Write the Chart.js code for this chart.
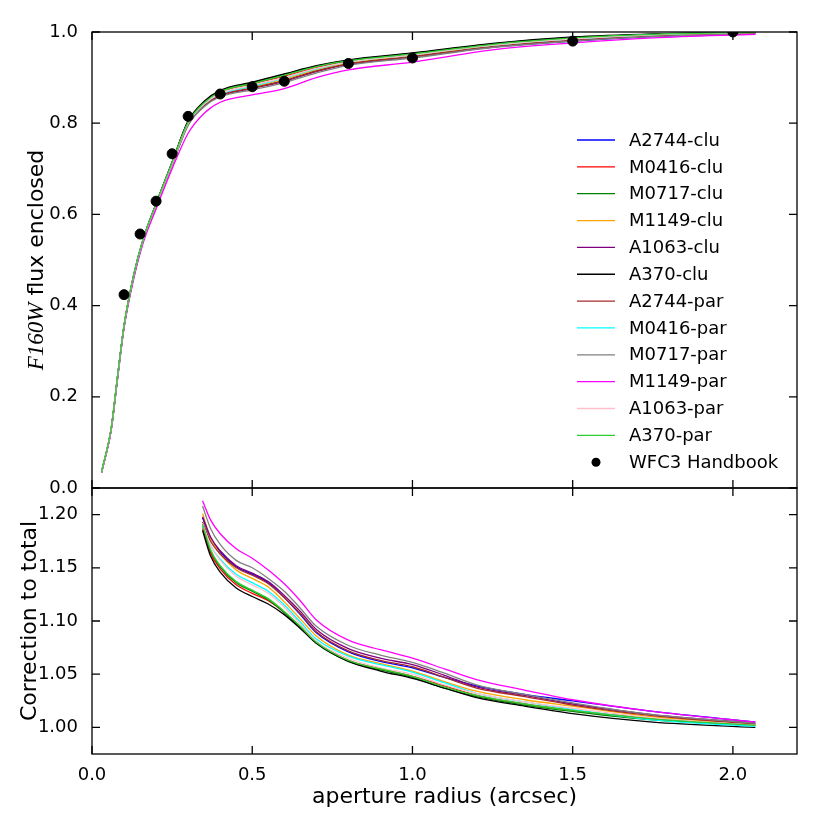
<!DOCTYPE html>
<html>
<head>
<meta charset="utf-8">
<script src="https://cdn.jsdelivr.net/npm/chart.js@4.4.1/dist/chart.umd.min.js"></script>
<style>
  html, body { margin: 0; padding: 0; background: #fff; }
</style>
</head>
<body>
<canvas id="c" width="830" height="830"></canvas>
<script>
// fields, in plotting order
const names = ['A2744-clu', 'M0416-clu', 'M0717-clu', 'M1149-clu', 'A1063-clu', 'A370-clu',
               'A2744-par', 'M0416-par', 'M0717-par', 'M1149-par', 'A1063-par', 'A370-par'];
const colors = ['#0000ff', '#ff0000', '#008000', '#ffa500', '#800080', '#000000',
                '#a52a2a', '#00ffff', '#808080', '#ff00ff', '#ffc0cb', '#32cd32'];

// top panel: enclosed flux vs aperture radius
const rTop = [0.03, 0.06, 0.08, 0.1, 0.13, 0.16, 0.2, 0.25, 0.3, 0.35, 0.4, 0.5, 0.6, 0.7, 0.8, 1.0, 1.25, 1.5, 1.75, 2.07];
const fluxA2744clu = [0.035, 0.129, 0.244, 0.354, 0.463, 0.543, 0.620, 0.710, 0.799, 0.840, 0.862, 0.878, 0.894, 0.915, 0.931, 0.946, 0.967, 0.980, 0.990, 0.996];
const fluxM0416clu = [0.035, 0.131, 0.246, 0.356, 0.466, 0.546, 0.623, 0.714, 0.804, 0.846, 0.869, 0.886, 0.903, 0.922, 0.936, 0.951, 0.972, 0.986, 0.994, 0.999];
const fluxM0717clu = [0.035, 0.131, 0.246, 0.356, 0.466, 0.546, 0.623, 0.714, 0.803, 0.846, 0.870, 0.889, 0.907, 0.925, 0.938, 0.953, 0.974, 0.988, 0.995, 0.999];
const fluxM1149clu = [0.035, 0.129, 0.244, 0.354, 0.463, 0.543, 0.619, 0.709, 0.797, 0.838, 0.861, 0.879, 0.896, 0.917, 0.932, 0.948, 0.970, 0.984, 0.993, 0.998];
const fluxA1063clu = [0.035, 0.129, 0.244, 0.354, 0.463, 0.543, 0.619, 0.709, 0.797, 0.838, 0.860, 0.876, 0.892, 0.913, 0.929, 0.945, 0.967, 0.981, 0.991, 0.997];
const fluxA370clu  = [0.035, 0.131, 0.246, 0.356, 0.467, 0.547, 0.624, 0.715, 0.805, 0.848, 0.872, 0.890, 0.908, 0.926, 0.939, 0.954, 0.975, 0.989, 0.996, 1.000];
const fluxA2744par = [0.035, 0.130, 0.245, 0.355, 0.464, 0.544, 0.620, 0.710, 0.798, 0.839, 0.861, 0.877, 0.893, 0.914, 0.930, 0.946, 0.968, 0.982, 0.992, 0.998];
const fluxM0416par = [0.035, 0.130, 0.245, 0.355, 0.465, 0.545, 0.622, 0.712, 0.801, 0.842, 0.864, 0.881, 0.899, 0.919, 0.934, 0.950, 0.971, 0.985, 0.994, 1.000];
const fluxM0717par = [0.035, 0.129, 0.243, 0.353, 0.462, 0.542, 0.618, 0.707, 0.795, 0.836, 0.858, 0.873, 0.889, 0.910, 0.927, 0.943, 0.966, 0.980, 0.990, 0.996];
const fluxM1149par = [0.034, 0.127, 0.240, 0.350, 0.458, 0.538, 0.612, 0.700, 0.778, 0.822, 0.846, 0.862, 0.876, 0.900, 0.917, 0.934, 0.961, 0.976, 0.987, 0.995];
const fluxA1063par = [0.035, 0.130, 0.245, 0.355, 0.465, 0.545, 0.621, 0.711, 0.800, 0.842, 0.865, 0.883, 0.900, 0.920, 0.934, 0.950, 0.971, 0.985, 0.994, 0.999];
const fluxA370par  = [0.035, 0.131, 0.246, 0.356, 0.466, 0.546, 0.623, 0.714, 0.802, 0.845, 0.869, 0.887, 0.905, 0.924, 0.937, 0.952, 0.973, 0.987, 0.995, 0.999];

// WFC3 handbook encircled energy
const rHandbook = [0.1, 0.15, 0.2, 0.25, 0.3, 0.4, 0.5, 0.6, 0.8, 1.0, 1.5, 2.0];
const fluxHandbook = [0.424, 0.557, 0.629, 0.733, 0.815, 0.864, 0.880, 0.892, 0.931, 0.943, 0.980, 1.000];

// bottom panel: correction to total
const rBot = [0.345, 0.37, 0.4, 0.45, 0.5, 0.55, 0.6, 0.65, 0.7, 0.8, 0.9, 1.0, 1.1, 1.2, 1.35, 1.5, 1.75, 2.07];
const corrA2744clu = [1.197, 1.178, 1.165, 1.151, 1.144, 1.136, 1.122, 1.106, 1.089, 1.071, 1.062, 1.056, 1.047, 1.039, 1.031, 1.025, 1.015, 1.005];
const corrM0416clu = [1.187, 1.164, 1.149, 1.134, 1.126, 1.119, 1.108, 1.094, 1.080, 1.063, 1.055, 1.048, 1.039, 1.030, 1.022, 1.016, 1.008, 1.002];
const corrM0717clu = [1.190, 1.166, 1.151, 1.136, 1.128, 1.120, 1.108, 1.094, 1.079, 1.062, 1.054, 1.047, 1.037, 1.029, 1.021, 1.015, 1.007, 1.002];
const corrM1149clu = [1.201, 1.178, 1.163, 1.148, 1.140, 1.132, 1.118, 1.102, 1.086, 1.068, 1.060, 1.053, 1.043, 1.034, 1.026, 1.020, 1.010, 1.003];
const corrA1063clu = [1.198, 1.179, 1.166, 1.152, 1.145, 1.137, 1.124, 1.109, 1.092, 1.074, 1.065, 1.059, 1.049, 1.038, 1.030, 1.022, 1.012, 1.004];
const corrA370clu  = [1.185, 1.161, 1.146, 1.131, 1.123, 1.116, 1.106, 1.093, 1.079, 1.062, 1.053, 1.046, 1.037, 1.028, 1.020, 1.013, 1.005, 1.000];
const corrA2744par = [1.193, 1.175, 1.163, 1.150, 1.143, 1.135, 1.122, 1.107, 1.090, 1.072, 1.063, 1.057, 1.047, 1.037, 1.029, 1.021, 1.011, 1.003];
const corrM0416par = [1.190, 1.171, 1.158, 1.144, 1.136, 1.128, 1.115, 1.099, 1.083, 1.067, 1.059, 1.052, 1.042, 1.032, 1.024, 1.017, 1.007, 1.001];
const corrM0717par = [1.208, 1.187, 1.172, 1.157, 1.150, 1.140, 1.128, 1.112, 1.095, 1.077, 1.068, 1.061, 1.051, 1.040, 1.031, 1.023, 1.012, 1.004];
const corrM1149par = [1.213, 1.195, 1.182, 1.168, 1.159, 1.148, 1.135, 1.119, 1.101, 1.082, 1.073, 1.065, 1.055, 1.045, 1.035, 1.026, 1.015, 1.005];
const corrA1063par = [1.192, 1.171, 1.157, 1.142, 1.134, 1.126, 1.113, 1.097, 1.081, 1.065, 1.056, 1.050, 1.040, 1.032, 1.024, 1.018, 1.009, 1.002];
const corrA370par  = [1.191, 1.167, 1.152, 1.137, 1.129, 1.121, 1.109, 1.095, 1.080, 1.063, 1.055, 1.048, 1.038, 1.030, 1.022, 1.016, 1.008, 1.002];

// ticks
const xTicks = [0.0, 0.5, 1.0, 1.5, 2.0];
const topTicks = [0.0, 0.2, 0.4, 0.6, 0.8, 1.0];
const botTicks = [1.00, 1.05, 1.10, 1.15, 1.20];

const fluxes = [fluxA2744clu, fluxM0416clu, fluxM0717clu, fluxM1149clu, fluxA1063clu, fluxA370clu,
                fluxA2744par, fluxM0416par, fluxM0717par, fluxM1149par, fluxA1063par, fluxA370par];
const corrs = [corrA2744clu, corrM0416clu, corrM0717clu, corrM1149clu, corrA1063clu, corrA370clu,
               corrA2744par, corrM0416par, corrM0717par, corrM1149par, corrA1063par, corrA370par];

function pts(xs, ys) { return xs.map((x, i) => ({ x: x, y: ys[i] })); }

const datasets = [];
names.forEach(function (n, i) {
  datasets.push({ label: n, data: pts(rTop, fluxes[i]), yAxisID: 'yTop', borderColor: colors[i],
                  borderWidth: 1.3, pointRadius: 0, cubicInterpolationMode: 'monotone', order: -i });
  datasets.push({ label: n + ' corr', data: pts(rBot, corrs[i]), yAxisID: 'yBot', borderColor: colors[i],
                  borderWidth: 1.3, pointRadius: 0, cubicInterpolationMode: 'monotone', order: -i });
});
datasets.push({ label: 'WFC3 Handbook', type: 'scatter', data: pts(rHandbook, fluxHandbook), yAxisID: 'yTop',
                backgroundColor: '#000', borderColor: '#000', pointRadius: 5, order: -100 });

Chart.defaults.font.family = 'DejaVu Sans';
Chart.defaults.font.size = 18;
Chart.defaults.color = '#000';

// frame, inward ticks, legend and axis titles (matplotlib look)
const decor = {
  id: 'decor',
  afterDraw(chart) {
    const ctx = chart.ctx, x = chart.scales.x;
    ctx.save();
    ctx.strokeStyle = '#000';
    ctx.lineWidth = 1.3;
    [chart.scales.yTop, chart.scales.yBot].forEach(function (y) {
      ctx.strokeRect(x.left, y.top, x.right - x.left, y.bottom - y.top);
      ctx.beginPath();
      xTicks.forEach(function (v) {
        const px = x.getPixelForValue(v);
        ctx.moveTo(px, y.top); ctx.lineTo(px, y.top + 8);
        ctx.moveTo(px, y.bottom); ctx.lineTo(px, y.bottom - 8);
      });
      y.ticks.forEach(function (t) {
        const py = y.getPixelForValue(t.value);
        ctx.moveTo(x.left, py); ctx.lineTo(x.left + 8, py);
        ctx.moveTo(x.right, py); ctx.lineTo(x.right - 8, py);
      });
      ctx.stroke();
    });

    // legend
    const lx = x.right - 220, ly = 140, gap = 26.85;
    ctx.font = '18px "DejaVu Sans"';
    ctx.textBaseline = 'middle';
    ctx.textAlign = 'left';
    names.forEach(function (n, i) {
      const yy = ly + i * gap;
      ctx.strokeStyle = colors[i];
      ctx.lineWidth = 1.3;
      ctx.beginPath(); ctx.moveTo(lx, yy); ctx.lineTo(lx + 38, yy); ctx.stroke();
      ctx.fillStyle = '#000';
      ctx.fillText(n, lx + 52, yy + 1);
    });
    const hy = ly + names.length * gap;
    ctx.beginPath(); ctx.arc(lx + 19, hy, 4.5, 0, Math.PI * 2); ctx.fillStyle = '#000'; ctx.fill();
    ctx.fillText('WFC3 Handbook', lx + 52, hy + 1);

    // axis titles
    ctx.textAlign = 'center';
    ctx.font = '22px "DejaVu Sans"';
    ctx.fillText('aperture radius (arcsec)', (x.left + x.right) / 2, 797);

    const yt = chart.scales.yTop, yb = chart.scales.yBot;
    ctx.save();
    ctx.translate(30, (yb.top + yb.bottom) / 2);
    ctx.rotate(-Math.PI / 2);
    ctx.fillText('Correction to total', 0, 0);
    ctx.restore();

    ctx.save();
    ctx.translate(37, (yt.top + yt.bottom) / 2);
    ctx.rotate(-Math.PI / 2);
    const f1 = 'italic 23px "Liberation Serif"', f2 = '22px "DejaVu Sans"';
    ctx.font = f1; const w1 = ctx.measureText('F160W').width;
    ctx.font = f2; const w2 = ctx.measureText(' flux enclosed').width;
    ctx.textAlign = 'left';
    ctx.font = f1; ctx.fillText('F160W', -(w1 + w2) / 2, 0);
    ctx.font = f2; ctx.fillText(' flux enclosed', -(w1 + w2) / 2 + w1, 0);
    ctx.restore();
    ctx.restore();
  }
};

function fixTicks(list) {
  return function (scale) { scale.ticks = list.map(v => ({ value: v })); };
}

new Chart(document.getElementById('c'), {
  type: 'line',
  data: { datasets: datasets },
  options: {
    responsive: false,
    animation: false,
    layout: { padding: { left: 0, right: 33, top: 32, bottom: 0 } },
    plugins: { legend: { display: false }, tooltip: { enabled: false } },
    scales: {
      x: {
        type: 'linear', min: 0, max: 2.2,
        afterBuildTicks: fixTicks(xTicks),
        afterFit: function (s) { s.height = 76; },
        grid: { display: false }, border: { display: false },
        ticks: { padding: 3, maxRotation: 0, callback: v => v.toFixed(1) }
      },
      yBot: {
        type: 'linear', position: 'left', stack: 'v', stackWeight: 266, min: 0.975, max: 1.225,
        afterBuildTicks: fixTicks(botTicks),
        afterFit: function (s) { s.width = 92; },
        grid: { display: false }, border: { display: false },
        ticks: { padding: 6, callback: v => v.toFixed(2) }
      },
      yTop: {
        type: 'linear', position: 'left', stack: 'v', stackWeight: 456, min: 0, max: 1,
        afterBuildTicks: fixTicks(topTicks),
        afterFit: function (s) { s.width = 92; },
        grid: { display: false }, border: { display: false },
        ticks: { padding: 6, callback: v => v.toFixed(1) }
      }
    }
  },
  plugins: [decor]
});
</script>
</body>
</html>
